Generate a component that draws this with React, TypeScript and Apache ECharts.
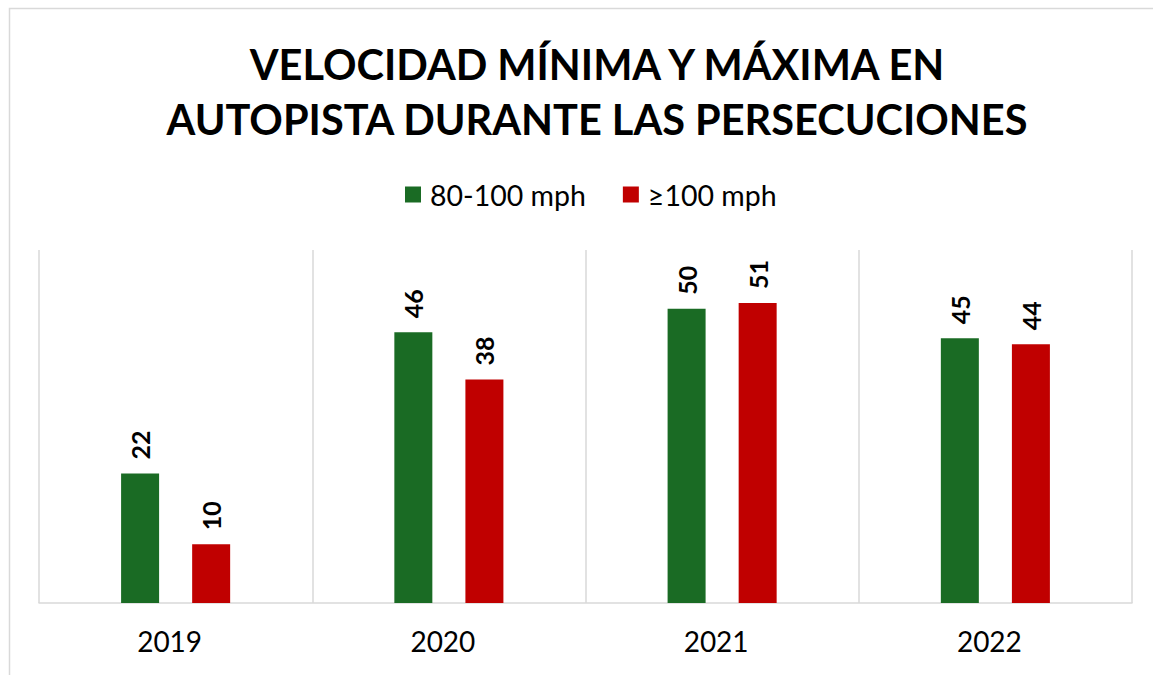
import React, { useEffect, useRef } from "react";
import * as echarts from "echarts";

const categories = ["2019", "2020", "2021", "2022"];
const seriesNames = ["80-100 mph", "≥100 mph"];
const lowSpeed = [22, 46, 50, 45];
const highSpeed = [10, 38, 51, 44];
const titleLines = ["VELOCIDAD MÍNIMA Y MÁXIMA EN", "AUTOPISTA DURANTE LAS PERSECUCIONES"];

const FONT = "Lato, 'Open Sans', sans-serif";

export default function App() {
  const ref = useRef<HTMLDivElement>(null);
  useEffect(() => {
    if (!ref.current) return;
    const chart = echarts.init(ref.current, undefined, { renderer: "svg" });
    const label = {
      show: true,
      position: "top",
      rotate: 90,
      align: "left",
      verticalAlign: "middle",
      distance: 14,
      color: "#000",
      fontFamily: FONT,
      fontWeight: "bold",
      fontSize: 25,
    };
    chart.setOption({
      animation: false,
      backgroundColor: "#fff",
      graphic: [
        {
          type: "rect",
          shape: { x: 9.5, y: 8.5, width: 1170, height: 700 },
          style: { fill: "none", stroke: "#d9d9d9", lineWidth: 1.5 },
          z: -1,
        },
        {
          type: "text",
          x: 597,
          y: 36,
          style: {
            text: titleLines.join("\n"),
            align: "center",
            verticalAlign: "top",
            fontFamily: FONT,
            fontWeight: "bold",
            fontSize: 41.5,
            lineHeight: 55,
            fill: "#000",
          },
        },
      ],
      legend: {
        top: 175,
        left: 400,
        itemWidth: 16,
        itemHeight: 16,
        itemGap: 37,
        icon: "rect",
        textStyle: {
          fontFamily: FONT,
          fontSize: 28.5,
          color: "#000",
          padding: [0, 0, 0, 4],
        },
        data: seriesNames,
      },
      grid: { left: 39, right: 21, top: 250, bottom: 72, containLabel: false },
      xAxis: {
        type: "category",
        data: categories,
        axisLine: { lineStyle: { color: "#d9d9d9", width: 1.5 } },
        axisTick: { show: false },
        splitLine: { show: true, lineStyle: { color: "#d9d9d9", width: 1.5 } },
        axisLabel: {
          margin: 24,
          fontFamily: FONT,
          fontSize: 28,
          color: "#000",
          padding: [0, 12, 0, 0],
        },
      },
      yAxis: {
        type: "value",
        min: 0,
        max: 60,
        show: false,
        splitLine: { show: false },
      },
      series: [
        {
          name: seriesNames[0],
          type: "bar",
          data: lowSpeed,
          barWidth: 38,
          barGap: "87%",
          itemStyle: { color: "#1a6b24" },
          label,
        },
        {
          name: seriesNames[1],
          type: "bar",
          data: highSpeed,
          barWidth: 38,
          barGap: "87%",
          itemStyle: { color: "#c00000" },
          label,
        },
      ],
    });
    return () => chart.dispose();
  }, []);
  return (
    <div
      ref={ref}
      style={{ position: "fixed", left: 0, top: 0, width: 1153, height: 675 }}
    />
  );
}
